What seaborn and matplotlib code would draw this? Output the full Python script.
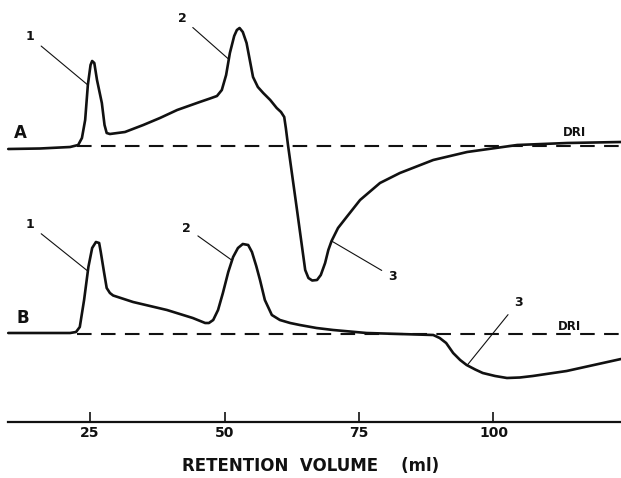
"""
Chromatogram: DRI traces A and B vs retention volume.
"""
import numpy as np
import matplotlib
matplotlib.use("Agg")
import matplotlib.pyplot as plt
import seaborn as sns

# ---- data (retention volume in ml, DRI response a.u.) ----
vol_a = [9.8, 15.7, 21.3, 22.8, 23.5, 24.1, 24.6, 25.1, 25.4, 25.8, 26.3, 27.2, 27.7,
         28.1, 28.7, 31.5, 34.9, 38.0, 41.2, 45.4, 47.3, 48.6, 49.5, 50.3, 51.0, 51.8,
         52.3, 52.8, 53.4, 54.1, 54.7, 55.3, 56.2, 57.2, 58.5, 59.7, 60.5, 61.1, 61.4,
         61.8, 63.4, 65.0, 65.6, 66.3, 67.2, 67.9, 68.7, 69.3, 69.9, 71.1, 72.7, 75.2,
         78.9, 82.6, 88.8, 95.1, 104.4, 113.7, 123.7]
resp_a = [-0.3, -0.25, -0.1, 0.1, 0.8, 2.6, 6.1, 8.1, 8.5, 8.3, 6.6, 4.3, 2.1,
          1.3, 1.2, 1.4, 2.1, 2.8, 3.6, 4.4, 4.75, 5.0, 5.6, 7.1, 9.3, 11.0,
          11.6, 11.8, 11.4, 10.3, 8.6, 6.9, 5.9, 5.3, 4.6, 3.8, 3.4, 2.9, 1.8,
          0.1, -6.1, -12.4, -13.2, -13.45, -13.4, -12.9, -11.7, -10.4, -9.5, -8.2, -7.1, -5.4,
          -3.7, -2.7, -1.4, -0.6, 0.1, 0.3, 0.4]

vol_b = [9.8, 15.7, 21.3, 22.4, 23.1, 23.9, 24.7, 25.4, 26.1, 26.7, 27.0, 27.6, 28.1,
         28.7, 29.3, 33.0, 39.3, 44.1, 46.4, 47.1, 47.9, 48.8, 49.7, 50.7, 51.6, 52.5,
         53.4, 54.4, 55.1, 55.9, 56.6, 57.5, 58.8, 60.3, 62.2, 64.0, 67.1, 70.2, 76.4,
         82.6, 88.8, 90.0, 91.2, 92.5, 93.8, 95.0, 96.6, 98.0, 100.3, 102.5, 104.9, 107.3,
         113.6, 123.7]
resp_b = [0.1, 0.1, 0.1, 0.2, 0.7, 3.4, 6.7, 8.6, 9.2, 9.1, 8.2, 6.2, 4.6,
          4.1, 3.85, 3.2, 2.4, 1.6, 1.1, 1.1, 1.4, 2.4, 4.1, 6.2, 7.7, 8.6,
          9.0, 8.9, 8.2, 6.8, 5.4, 3.4, 1.9, 1.4, 1.1, 0.9, 0.6, 0.4, 0.1,
          0.0, -0.1, -0.4, -0.9, -1.9, -2.6, -3.1, -3.55, -3.9, -4.2, -4.4, -4.35, -4.2,
          -3.7, -2.5]

# peak labels: (label, volume where leader meets the trace)
peaks_a = [("1", 24.6), ("2", 50.8), ("3", 69.9)]
peaks_b = [("1", 24.6), ("2", 51.4), ("3", 95.1)]
# label positions (volume, height)
peak_text_a = [(13.9, 38.5), (42.1, 40.4), (81.3, 14.5)]
peak_text_b = [(13.9, 19.7), (43.0, 19.4), (104.6, 12.0)]

ticks = [25, 50, 75, 100]

A_OFFSET = 27.6   # vertical offset of trace A
B_OFFSET = 8.8    # vertical offset of trace B
DASH_START = 22.5

# ---- figure ----
sns.set_theme(style="white")
plt.rcParams['font.family'] = ['DejaVu Sans']
fig = plt.figure(figsize=(6.21, 4.78), dpi=100)
ax = fig.add_axes([0, 0, 1, 1])
ax.set_xlim(8.27, 123.7)
ax.set_ylim(-5.6, 42.2)

ink = "#111111"
for vol, resp, off in [(vol_a, resp_a, A_OFFSET), (vol_b, resp_b, B_OFFSET)]:
    sns.lineplot(x=vol, y=np.array(resp) + off, ax=ax, color=ink, lw=1.9,
                 sort=False, estimator=None, solid_joinstyle="round",
                 solid_capstyle="round")
    ax.hlines(off, DASH_START, vol[-1], colors=ink, lw=1.5,
              linestyles=(0, (7, 4.5)))

# leader lines + peak numbers
for peaks, texts, vol, resp, off in [(peaks_a, peak_text_a, vol_a, resp_a, A_OFFSET),
                                     (peaks_b, peak_text_b, vol_b, resp_b, B_OFFSET)]:
    for (lab, xv), (tx, ty) in zip(peaks, texts):
        yv = np.interp(xv, vol, resp) + off
        ax.annotate(lab, xy=(xv, yv), xytext=(tx, ty), ha="center", va="center",
                    fontsize=9, fontweight="bold", color=ink,
                    arrowprops=dict(arrowstyle="-", color=ink, lw=0.8,
                                    shrinkA=3, shrinkB=0))

# trace letters and DRI tags
ax.text(12.0, 28.9, "A", fontsize=12, fontweight="bold", ha="center", va="center", color=ink)
ax.text(12.5, 10.4, "B", fontsize=12, fontweight="bold", ha="center", va="center", color=ink)
ax.text(115.0, 28.9, "DRI", fontsize=8.5, fontweight="bold", ha="center", va="center", color=ink)
ax.text(114.1, 9.5, "DRI", fontsize=8.5, fontweight="bold", ha="center", va="center", color=ink)

# retention volume axis
for side in ["left", "top", "right"]:
    ax.spines[side].set_visible(False)
ax.spines["bottom"].set_position(("data", 0))
ax.spines["bottom"].set_bounds(9.8, 123.7)
ax.spines["bottom"].set_linewidth(1.6)
ax.spines["bottom"].set_color(ink)
ax.set_yticks([])
ax.set_xticks(ticks)
ax.set_xticklabels([str(t) for t in ticks], fontsize=10, fontweight="bold", color=ink)
ax.tick_params(axis="x", direction="in", length=7, width=1.2, color=ink, pad=3,
               bottom=True)
ax.set_xlabel("RETENTION  VOLUME    (ml)", fontsize=12, fontweight="bold",
              color=ink, labelpad=12)

fig.savefig("out.png", dpi=100, facecolor="white")
